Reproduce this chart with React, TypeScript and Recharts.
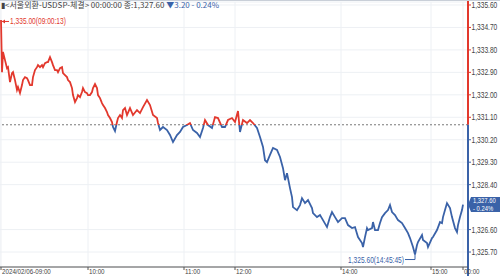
import {
  LineChart,
  Line,
  XAxis,
  YAxis,
  CartesianGrid,
  ReferenceLine,
  ReferenceDot,
} from "recharts";

// trade sequence position (roughly one step per pixel of the original) and price
const SEQ = [
  1, 2, 3, 5, 7, 8, 10, 12, 13, 15,
  17, 18, 20, 22, 23, 25, 27, 28, 30, 32,
  33, 35, 37, 38, 40, 42, 43, 45, 47, 48,
  50, 52, 53, 55, 57, 58, 60, 62, 63, 65,
  67, 68, 70, 72, 73, 75, 77, 78, 80, 82,
  83, 85, 87, 88, 90, 92, 93, 95, 97, 98,
  100, 102, 103, 105, 107, 108, 110, 112, 113, 115,
  117, 118, 120, 122, 123, 125, 127, 130, 133, 137,
  140, 143, 147, 150, 153, 157, 158, 160, 163, 167,
  170, 173, 177, 180, 183, 187, 190, 193, 197, 200,
  203, 205, 208, 212, 215, 218, 222, 225, 228, 232,
  235, 238, 240, 243, 247, 250, 253, 257, 260, 263,
  265, 267, 270, 273, 277, 280, 283, 285, 287, 290,
  292, 293, 297, 300, 302, 305, 308, 312, 313, 317,
  320, 323, 327, 330, 332, 335, 338, 342, 345, 348,
  352, 355, 358, 362, 363, 365, 367, 368, 372, 373,
  375, 378, 380, 382, 385, 388, 390, 392, 395, 398,
  402, 405, 408, 410, 413, 415, 417, 418, 422, 423,
  427, 428, 432, 433, 437, 440, 442, 443, 445, 447,
  450, 452, 455, 457, 458, 460, 462, 463,
];

const PRICE = [
  1335.0, 1332.91, 1333.72, 1333.39, 1333.07, 1333.11, 1332.51, 1332.87, 1332.91, 1332.59,
  1332.19, 1332.31, 1332.07, 1332.39, 1332.59, 1332.71, 1332.67, 1332.59, 1332.39, 1332.39,
  1332.71, 1332.99, 1333.11, 1333.19, 1333.11, 1333.19, 1333.11, 1333.27, 1333.31, 1333.31,
  1333.51, 1333.31, 1333.19, 1332.99, 1332.99, 1332.91, 1333.07, 1333.11, 1332.87, 1332.79,
  1332.71, 1332.59, 1332.51, 1332.27, 1331.99, 1331.71, 1331.87, 1331.99, 1331.91, 1332.11,
  1332.27, 1332.11, 1332.07, 1331.99, 1331.99, 1332.11, 1332.27, 1332.43, 1332.27, 1331.99,
  1331.87, 1331.67, 1331.59, 1331.47, 1331.31, 1331.19, 1331.07, 1330.91, 1330.71, 1330.55,
  1330.91, 1331.07, 1331.19, 1331.07, 1331.39, 1331.47, 1331.19, 1331.47, 1331.19, 1331.39,
  1331.27, 1331.51, 1331.79, 1331.59, 1331.19, 1331.07, 1330.87, 1330.59, 1330.71, 1330.59,
  1330.39, 1330.11, 1330.39, 1330.51, 1330.71, 1330.79, 1330.87, 1330.59, 1330.47, 1330.31,
  1330.67, 1330.99, 1330.79, 1330.67, 1331.11, 1331.07, 1330.71, 1330.71, 1330.99, 1331.07,
  1330.91, 1331.35, 1330.51, 1330.99, 1330.87, 1330.99, 1330.87, 1330.67, 1330.31, 1329.91,
  1329.38, 1329.3, 1329.59, 1329.87, 1329.79, 1329.51, 1329.06, 1328.58, 1328.86, 1328.26,
  1327.9, 1327.5, 1327.38, 1327.58, 1327.86, 1327.66, 1327.78, 1327.46, 1327.26, 1327.1,
  1327.18, 1326.98, 1326.7, 1327.1, 1327.3, 1327.1, 1326.9, 1327.06, 1327.06, 1326.78,
  1326.66, 1326.7, 1326.3, 1326.06, 1325.9, 1326.3, 1326.66, 1326.58, 1326.66, 1326.9,
  1326.58, 1326.58, 1326.86, 1327.1, 1327.26, 1327.38, 1327.58, 1327.3, 1327.18, 1326.98,
  1326.86, 1326.66, 1326.46, 1326.26, 1325.9, 1325.6, 1325.98, 1326.1, 1326.38, 1326.18,
  1326.06, 1325.9, 1326.26, 1326.3, 1326.58, 1326.9, 1326.86, 1327.1, 1327.38, 1327.66,
  1327.46, 1327.1, 1326.66, 1326.5, 1326.78, 1327.1, 1327.38, 1327.6,
];

const PREV_CLOSE = 1330.8;
const X_TICKS = [1, 88, 184, 235, 341, 431, 463];
const X_LABELS = ["2024/02/06-09:00", "10:00", "11:00", "12:00", "14:00", "15:00", "00:00"];
const Y_TICKS = [1335.6, 1334.7, 1333.8, 1332.9, 1332.0, 1331.1, 1330.2, 1329.3, 1328.4, 1326.6, 1325.7];
const HIGH_TIME = "09:00:13";
const LOW_TIME = "14:45:45";
const CHANGE = "▼3.20";
const CHANGE_PCT = "- 0.24%";

const RED = "#e2382d";
const BLUE = "#3a62a8";
const FONT = "'Liberation Sans', Arial, sans-serif";

const data = SEQ.map((seq, i) => ({ seq, price: PRICE[i] }));
const hi = Math.max(...PRICE);
const lo = Math.min(...PRICE);
const split = (hi - PREV_CLOSE) / (hi - lo);
const last = data[data.length - 1];
const hiPt = data[PRICE.indexOf(hi)];
const loPt = data[PRICE.indexOf(lo)];

const fmt = (v: number) =>
  v.toLocaleString("en-US", { minimumFractionDigits: 2, maximumFractionDigits: 2 });

// narrow text: regular sans squeezed horizontally
function NText({ x, y, size = 8.5, fill = "#444", anchor = "start", children }: any) {
  return (
    <text
      transform={`translate(${x},${y}) scale(0.78,1)`}
      fontSize={size}
      fill={fill}
      textAnchor={anchor}
      fontFamily={FONT}
    >
      {children}
    </text>
  );
}

function XTick({ x, y, payload }: any) {
  const label = X_LABELS[X_TICKS.indexOf(payload.value)];
  return (
    <g>
      <line x1={x} x2={x} y1={y} y2={y + 3} stroke="#555" />
      <NText x={x + 1} y={y + 7.2} size={8}>
        {label}
      </NText>
    </g>
  );
}

function YTick({ x, y, payload }: any) {
  const c = payload.value > PREV_CLOSE ? RED : BLUE;
  return (
    <g>
      <line x1={x} x2={x + 3} y1={y} y2={y} stroke={c} />
      <NText x={x + 3.5} y={y + 3}>{fmt(payload.value)}</NText>
    </g>
  );
}

function HighLabel({ viewBox }: any) {
  const { x, y } = viewBox;
  return (
    <g>
      <line x1={x + 1} x2={x + 8} y1={y + 1.5} y2={y + 1.5} stroke={RED} />
      <path d={`M${x + 1},${y + 1.5} l3,-2 v4 z`} fill={RED} />
      <NText x={x + 9} y={y + 4.5} fill={RED}>
        {`${fmt(hi)}(${HIGH_TIME})`}
      </NText>
    </g>
  );
}

function LowLabel({ viewBox }: any) {
  const { x, y } = viewBox;
  return (
    <g>
      <line x1={x - 10} x2={x} y1={y + 5} y2={y + 5} stroke={BLUE} />
      <line x1={x} x2={x} y1={y + 5} y2={y} stroke={BLUE} />
      <NText x={x - 11} y={y + 8} fill={BLUE} anchor="end">
        {`${fmt(lo)}(${LOW_TIME})`}
      </NText>
    </g>
  );
}

function LastLabel({ viewBox }: any) {
  const { x, y } = viewBox;
  return (
    <g>
      <path
        d={`M${x + 5},${y} L${x + 8},${y - 7.5} L${x + 37},${y - 7.5} L${x + 37},${y + 7.5} L${x + 8},${y + 7.5} Z`}
        fill={BLUE}
      />
      <NText x={x + 10} y={y - 1.5} size={7.5} fill="#fff">
        {fmt(last.price)}
      </NText>
      <NText x={x + 10} y={y + 6} size={7.5} fill="#fff">
        {CHANGE_PCT}
      </NText>
    </g>
  );
}

export default function App() {
  return (
    <div
      style={{
        position: "absolute",
        left: 0,
        top: 0,
        width: 500,
        height: 276,
        background: "#fff",
        overflow: "hidden",
      }}
    >
      <LineChart
        width={500}
        height={276}
        data={data}
        margin={{ top: 2, right: 0, bottom: 0, left: 0 }}
      >
        <defs>
          <linearGradient id="priceGrad" x1="0" y1="0" x2="0" y2="1">
            <stop offset={split} stopColor={RED} />
            <stop offset={split} stopColor={BLUE} />
          </linearGradient>
        </defs>
        <CartesianGrid stroke="#edf0f4" />
        <XAxis
          dataKey="seq"
          type="number"
          domain={[0, 468]}
          ticks={X_TICKS}
          height={9}
          tickSize={0}
          tickMargin={0}
          tickLine={false}
          axisLine={{ stroke: "#555" }}
          tick={<XTick />}
          interval={0}
          allowDataOverflow
        />
        <YAxis
          orientation="right"
          type="number"
          domain={[1325.1, 1335.72]}
          ticks={Y_TICKS}
          width={32}
          tickSize={0}
          tickMargin={0}
          tickLine={false}
          axisLine={false}
          tick={<YTick />}
          interval={0}
          allowDataOverflow
        />
        <ReferenceLine y={PREV_CLOSE} stroke="#777" strokeDasharray="2 2" />
        <ReferenceLine
          segment={[
            { x: 468, y: 1335.8 },
            { x: 468, y: PREV_CLOSE },
          ]}
          stroke={RED}
          strokeWidth={2}
          ifOverflow="visible"
        />
        <ReferenceLine
          segment={[
            { x: 468, y: PREV_CLOSE },
            { x: 468, y: 1324.7 },
          ]}
          stroke={BLUE}
          strokeWidth={2}
          ifOverflow="visible"
        />
        <Line
          type="linear"
          dataKey="price"
          stroke="url(#priceGrad)"
          strokeWidth={1.8}
          dot={false}
          isAnimationActive={false}
        />
        <ReferenceDot
          x={hiPt.seq}
          y={hiPt.price}
          r={0}
          ifOverflow="visible"
          label={(p: any) => <HighLabel {...p} />}
        />
        <ReferenceDot
          x={loPt.seq}
          y={loPt.price}
          r={0}
          ifOverflow="visible"
          label={(p: any) => <LowLabel {...p} />}
        />
        <ReferenceDot
          x={last.seq}
          y={last.price}
          r={0}
          ifOverflow="visible"
          label={(p: any) => <LastLabel {...p} />}
        />
      </LineChart>
      <div
        style={{
          position: "absolute",
          left: 0,
          top: 0,
          width: 500,
          height: 1,
          background: "#c9cfd8",
        }}
      />
      <div
        style={{
          position: "absolute",
          left: 1,
          top: 0,
          fontSize: 8,
          lineHeight: "10px",
          color: "#444",
          whiteSpace: "nowrap",
          fontFamily: "'Noto Sans CJK KR', sans-serif",
          pointerEvents: "none",
        }}
      >
        ▮&lt;서울외환-USDSP-체결&gt; 00:00:00 종:{fmt(last.price)}{" "}
        <span style={{ color: BLUE }}>
          {CHANGE} {CHANGE_PCT}
        </span>
      </div>
    </div>
  );
}
